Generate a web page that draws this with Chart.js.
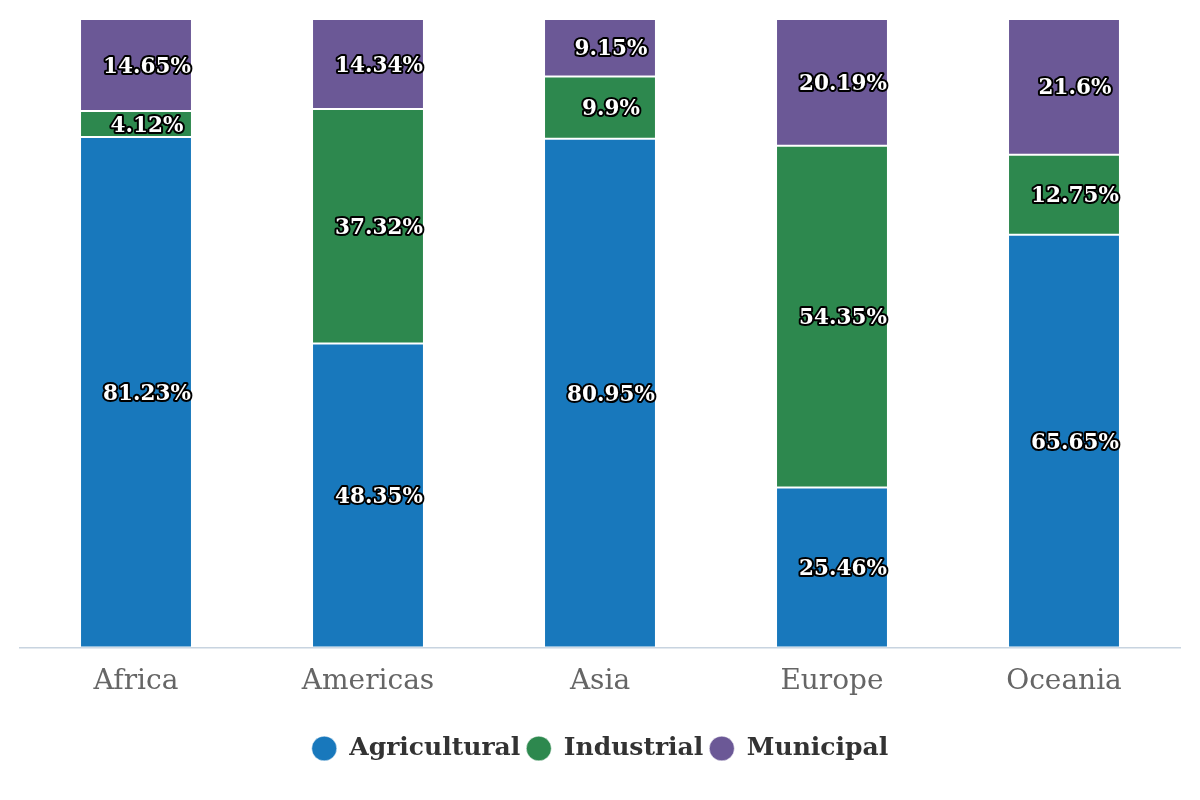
<!DOCTYPE html>
<html>
<head>
<meta charset="utf-8">
<script src="https://cdn.jsdelivr.net/npm/chart.js@4"></script>
<style>
  html, body { margin: 0; padding: 0; background: #fff; }
  #wrap { width: 1200px; height: 800px; }
</style>
</head>
<body>
<div id="wrap"><canvas id="chart"></canvas></div>
<script>
// Data (share of water withdrawal, %)
const regions = ['Africa', 'Americas', 'Asia', 'Europe', 'Oceania'];
const agricultural = [81.23, 48.35, 80.95, 25.46, 65.65];
const industrial = [4.12, 37.32, 9.9, 54.35, 12.75];
const municipal = [14.65, 14.34, 9.15, 20.19, 21.6];

const serif = '"DejaVu Serif", serif';

// Draw value labels in the middle of each segment
const segmentLabels = {
    id: 'segmentLabels',
    afterDatasetsDraw(chart) {
        const ctx = chart.ctx;
        ctx.save();
        ctx.font = 'bold 21.5px ' + serif;
        ctx.textAlign = 'center';
        ctx.textBaseline = 'middle';
        ctx.lineJoin = 'round';
        chart.data.datasets.forEach((ds, i) => {
            chart.getDatasetMeta(i).data.forEach((bar, j) => {
                const text = ds.data[j] + '%';
                const x = bar.x + 11;
                const y = (bar.y + bar.base) / 2 + 2;
                ctx.lineWidth = 4;
                ctx.strokeStyle = '#000';
                ctx.strokeText(text, x, y);
                ctx.fillStyle = '#fff';
                ctx.fillText(text, x, y);
            });
        });
        ctx.restore();
    }
};

const ctx = document.getElementById('chart').getContext('2d');
new Chart(ctx, {
    type: 'bar',
    data: {
        labels: regions,
        datasets: [
            { label: 'Agricultural', data: agricultural, backgroundColor: '#1878bc' },
            { label: 'Industrial', data: industrial, backgroundColor: '#2d884e' },
            { label: 'Municipal', data: municipal, backgroundColor: '#6b5896' }
        ].map(d => Object.assign(d, {
            borderColor: '#fff',
            borderWidth: { top: 1, bottom: 1, left: 0, right: 0 },
            borderSkipped: false,
            categoryPercentage: 1,
            barPercentage: 0.474
        }))
    },
    options: {
        responsive: true,
        maintainAspectRatio: false,
        animation: false,
        layout: { padding: { left: 20, right: 20, top: 19, bottom: 29 } },
        scales: {
            x: {
                stacked: true,
                grid: { display: false, drawTicks: false },
                border: { color: '#c8d4e0', width: 1.5 },
                ticks: { color: '#666', font: { family: serif, size: 28 }, padding: 18 },
                afterFit(scale) { scale.height += 13; }
            },
            y: {
                stacked: true,
                display: false,
                min: 0,
                max: 100
            }
        },
        plugins: {
            legend: {
                position: 'bottom',
                labels: {
                    usePointStyle: true,
                    pointStyle: 'circle',
                    pointStyleWidth: 25,
                    boxHeight: 17.5,
                    color: '#333',
                    font: { family: serif, size: 25, weight: 'bold' },
                    padding: 6
                }
            },
            tooltip: { enabled: false }
        }
    },
    plugins: [segmentLabels]
});
</script>
</body>
</html>
